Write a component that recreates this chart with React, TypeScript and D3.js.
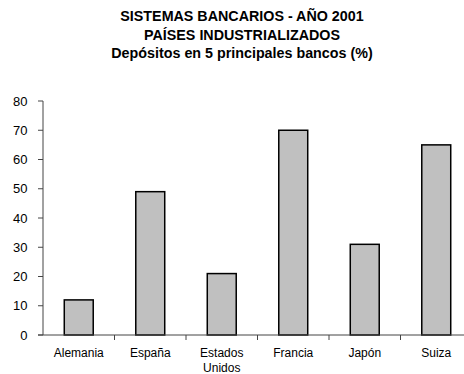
import React from "react";
import * as d3 from "d3";

const categories: string[][] = [["Alemania"], ["España"], ["Estados", "Unidos"], ["Francia"], ["Japón"], ["Suiza"]];
const values: number[] = [12, 49, 21, 70, 31, 65];
const yTicks: number[] = [0, 10, 20, 30, 40, 50, 60, 70, 80];
const titleLines: string[] = ["SISTEMAS BANCARIOS - AÑO 2001", "PAÍSES INDUSTRIALIZADOS", "Depósitos en 5 principales bancos (%)"];

export default function App() {
  const W = 464, H = 374;
  const left = 43, right = 472, top = 101, bottom = 335;
  const keys = categories.map((c) => c.join(" "));
  const x = d3.scaleBand<string>().domain(keys).range([left, right]).paddingInner(0.595).paddingOuter(0.2975);
  const y = d3.scaleLinear().domain([0, 80]).range([bottom, top]);
  const step = x.step();
  const font = "Liberation Sans, Arial, sans-serif";
  return (
    <svg width={W} height={H} style={{ position: "absolute", left: 0, top: 0, background: "#fff" }}>
      <rect x={0} y={0} width={W} height={H} fill="#fff" />
      {titleLines.map((t, i) => (
        <text key={i} x={242} y={21 + i * 18.7} textAnchor="middle" fontFamily={font} fontWeight="bold" fontSize={14.3} fill="#000">
          {t}
        </text>
      ))}
      {values.map((v, i) => (
        <rect key={i} x={x(keys[i])!} y={y(v)} width={x.bandwidth()} height={bottom - y(v)} fill="#c0c0c0" stroke="#000" strokeWidth={1.5} />
      ))}
      <line x1={left} x2={left} y1={top} y2={bottom} stroke="#444" strokeWidth={1} />
      <line x1={left - 5} x2={right} y1={bottom} y2={bottom} stroke="#444" strokeWidth={1} />
      {yTicks.map((t) => (
        <g key={t}>
          <line x1={left - 5} x2={left} y1={y(t)} y2={y(t)} stroke="#444" />
          <text x={27.5} y={y(t) + 4.7} textAnchor="end" fontFamily={font} fontSize={13} fill="#000">{t}</text>
        </g>
      ))}
      {keys.map((k, i) => (
        <g key={k}>
          {i > 0 && <line x1={left + i * step} x2={left + i * step} y1={bottom} y2={bottom + 5} stroke="#444" />}
          {categories[i].map((line, j) => (
            <text key={j} x={x(k)! + x.bandwidth() / 2} y={357 + j * 15} textAnchor="middle" fontFamily={font} fontSize={12} fill="#000">{line}</text>
          ))}
        </g>
      ))}
    </svg>
  );
}
